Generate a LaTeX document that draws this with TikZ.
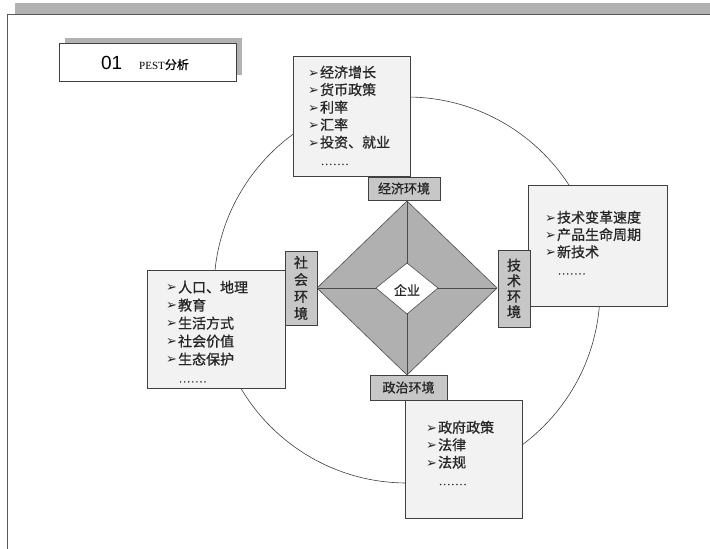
\documentclass[tikz,border=0pt]{standalone}
\usepackage{fontspec}
\setmainfont{Liberation Serif}
\newfontfamily\cjk[FakeBold=0.9]{Noto Sans CJK SC}
\newfontfamily\symf{DejaVu Sans}
\newfontfamily\arialf{Liberation Sans}
\newcommand\bl{\raisebox{0.5pt}{\symf\fontsize{13}{13}\selectfont ➢}\hspace{1pt}}
\newcommand\dt{.\hspace{1.3pt}}
\newcommand\dts{\hspace{13pt}{\fontsize{10}{10}\selectfont\dt\dt\dt\dt\dt\dt.}}
\begin{document}
\begin{tikzpicture}[x=1pt,y=-1pt,
  infobox/.style={draw=black!75, fill=black!5, line width=0.7pt, inner sep=0pt},
  labelbox/.style={draw=black!75, fill=black!22, line width=0.7pt, inner sep=0pt, align=center, text=black!85},
  listtext/.style={anchor=north west, inner sep=0pt, align=left, font=\cjk\fontsize{14}{17.5}\selectfont, text=black!85},
  ring/.style={draw=black!75, line width=0.6pt},
  dline/.style={draw=black!70, line width=0.6pt}]
\useasboundingbox (0,0) rectangle (710,549);
\fill[white] (0,0) rectangle (710,549);
% top band and frame
\fill[black!30] (15,3) rectangle (710,14);
\draw[black!65, line width=0.8pt] (7,549) -- (7,14) -- (710,14);
% title
\fill[black!30] (65,38) rectangle (242,75);
\node[draw=black!75, fill=white, line width=0.7pt, minimum width=177pt, minimum height=38pt, inner sep=0pt] (title) at (147.5,62) {};
\node[inner sep=0pt] (titletext) at (145,63) {{\arialf\fontsize{19}{19}\selectfont 01}\hspace{17pt}{\fontsize{11}{11}\selectfont PEST}{\cjk\fontsize{12}{12}\selectfont 分析}};
% circle
\coordinate (c) at (407,290);
\draw[ring] (c) circle (193pt);
% boxes
\node[infobox, minimum width=117pt, minimum height=120pt] (econ) at (351.5,116) {};
\node[infobox, minimum width=139pt, minimum height=121pt] (tech) at (597.5,245.5) {};
\node[infobox, minimum width=138pt, minimum height=118pt] (soc) at (216,329) {};
\node[infobox, minimum width=117pt, minimum height=118pt] (pol) at (463.5,459) {};
% list texts
\node[listtext] (econtext) at (308,65.5) {\bl 经济增长\\\bl 货币政策\\\bl 利率\\\bl 汇率\\\bl 投资、就业\\\dts};
\node[listtext, font=\cjk\fontsize{14}{17.3}\selectfont] (techtext) at (545,210.5) {\bl 技术变革速度\\\bl 产品生命周期\\\bl 新技术\\\dts};
\node[listtext, font=\cjk\fontsize{14}{18}\selectfont] (soctext) at (166,280.5) {\bl 人口、地理\\\bl 教育\\\bl 生活方式\\\bl 社会价值\\\bl 生态保护\\\dts};
\node[listtext] (poltext) at (426,420.5) {\bl 政府政策\\\bl 法律\\\bl 法规\\\dts};
% diamond
\coordinate (T) at (407,201);
\coordinate (R) at (497,288);
\coordinate (B) at (407,375);
\coordinate (L) at (317,288);
\coordinate (t) at (407,263);
\coordinate (r) at (438,288);
\coordinate (b) at (407,314);
\coordinate (l) at (376,288);
\filldraw[dline, fill=black!31] (T) -- (R) -- (B) -- (L) -- cycle;
\filldraw[dline, fill=white] (t) -- (r) -- (b) -- (l) -- cycle;
\draw[dline] (t) -- (T) (r) -- (R) (b) -- (B) (l) -- (L);
\node[inner sep=0pt, font=\cjk\fontsize{13}{13}\selectfont, text=black!85] (firm) at (407,290) {企业};
% labels
\node[labelbox, minimum width=72pt, minimum height=23pt, font=\cjk\fontsize{13}{13}\selectfont] (econlab) at (404,188.5) {经济环境};
\node[labelbox, minimum width=32pt, minimum height=77pt, font=\cjk\fontsize{14}{15.5}\selectfont] (techlab) at (514,288.5) {技\\术\\环\\境};
\node[labelbox, minimum width=32pt, minimum height=74pt, font=\cjk\fontsize{14}{17}\selectfont] (soclab) at (301,288) {社\\会\\环\\境};
\node[labelbox, minimum width=77pt, minimum height=25pt, font=\cjk\fontsize{13}{13}\selectfont] (pollab) at (408.5,387.5) {政治环境};
\end{tikzpicture}
\end{document}
